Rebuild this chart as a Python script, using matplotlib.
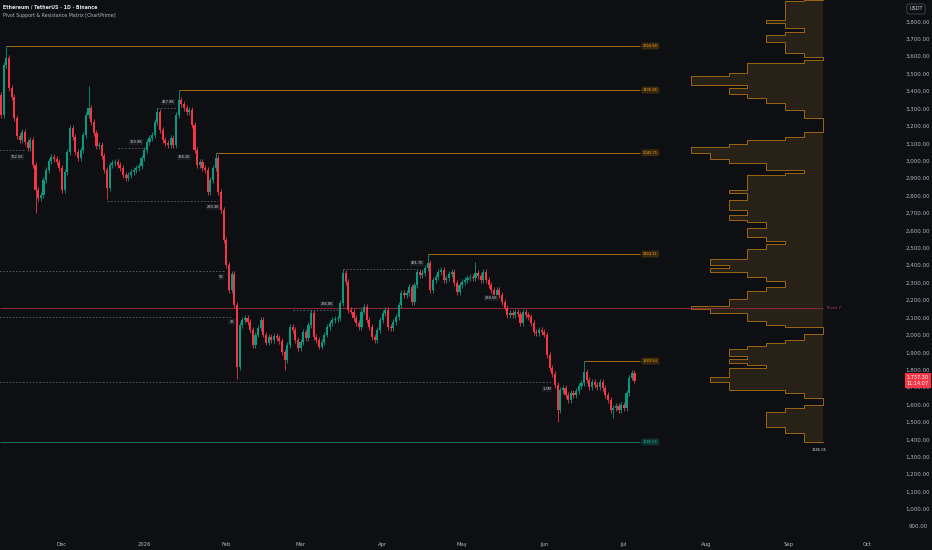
import matplotlib
matplotlib.use("Agg")
import matplotlib.pyplot as plt
import matplotlib.dates as mdates
import matplotlib.transforms as mtransforms
from matplotlib.ticker import FuncFormatter
import numpy as np
import pandas as pd

# ---- daily closes (ETH/USDT 1D) ----
first_day = "2025-11-08"
first_open = 3380
closes_nov = [3263, 3550, 3590, 3418, 3366, 3245, 3142, 3119, 3165, 3108, 3073, 3119, 2976, 2832,
              2786, 2803, 2889, 2947, 2999, 3022, 3010, 2993, 2958]
closes_dec = [2832, 2935, 3050, 3188, 3136, 3050, 3016, 3062, 3148, 3263, 3303, 3222, 3159, 3085,
              3090, 3027, 2947, 2843, 2976, 2987, 2993, 2976, 2958, 2918, 2901, 2918, 2935, 2947,
              2958, 2970, 3016]
closes_jan = [3062, 3108, 3131, 3148, 3222, 3280, 3177, 3119, 3102, 3090, 3131, 3090, 3263, 3349,
              3326, 3303, 3280, 3291, 3205, 3062, 2976, 2993, 2958, 2947, 2821, 2889, 2958, 3016,
              2821, 2717, 2545]
closes_feb = [2401, 2258, 2350, 2172, 1816, 2057, 2086, 2097, 2074, 2028, 1942, 2000, 2040, 2086,
              2000, 1954, 1988, 1971, 1994, 1982, 1965, 1902, 1856, 1942, 2045, 2028, 1971, 1925]
closes_mar = [1959, 2017, 1982, 2057, 2126, 1988, 1971, 1931, 1959, 2000, 2045, 2068, 2086, 2091,
              2097, 2183, 2355, 2304, 2143, 2132, 2097, 2068, 2045, 2132, 2160, 2086, 2045, 1988,
              1971, 2028, 2086]
closes_apr = [2126, 2143, 2045, 2040, 2074, 2103, 2172, 2241, 2229, 2241, 2275, 2189, 2287, 2361,
              2344, 2355, 2384, 2413, 2258, 2315, 2332, 2361, 2373, 2315, 2327, 2350, 2361, 2298,
              2246, 2287]
closes_may = [2304, 2315, 2327, 2332, 2327, 2355, 2338, 2315, 2361, 2315, 2287, 2258, 2229, 2258,
              2229, 2189, 2155, 2114, 2126, 2114, 2132, 2120, 2068, 2132, 2114, 2103, 2068, 2017,
              2011, 2028, 2017]
closes_jun = [2000, 1885, 1810, 1775, 1712, 1569, 1684, 1695, 1655, 1626, 1666, 1655, 1678, 1707,
              1724, 1787, 1741, 1701, 1730, 1712, 1701, 1730, 1695, 1655, 1626, 1569, 1580, 1592,
              1569, 1598]
closes_jul = [1580, 1666, 1753, 1781, 1737.30]

# notable wicks
pivot_highs = {"2025-11-10": 3658.88, "2025-12-11": 3430, "2026-01-06": 3300, "2026-01-14": 3405.86,
               "2026-01-28": 3045.75, "2026-03-17": 2378, "2026-04-18": 2464.11,
               "2026-05-06": 2419, "2026-06-16": 1849.54}
pivot_lows = {"2025-11-21": 2700, "2025-12-18": 2780, "2026-02-05": 1745, "2026-02-23": 1800,
              "2026-06-06": 1500, "2026-06-27": 1520}
wick = 15

# resistance / support levels
res_prices = [3658.88, 3405.86, 3045.75, 2464.11, 1849.54]
res_start = ["2025-11-10", "2026-01-14", "2026-01-28", "2026-04-18", "2026-06-16"]
support_price = 1385.05
poc_price = 2155
level_end = "2026-07-07"
label_day = "2026-07-11"

# dashed pivot lines: price, start, end
dash_prices = [3062, 3073, 3303, 2769, 2367, 2103, 2143, 2378, 1730]
dash_start = ["2025-11-07", "2025-12-22", "2026-01-06", "2025-12-18", "2025-11-07", "2025-11-07",
              "2026-02-26", "2026-03-17", "2025-11-07"]
dash_end = ["2025-11-17", "2026-01-02", "2026-01-13", "2026-01-29", "2026-01-31", "2026-02-03",
            "2026-03-15", "2026-04-14", "2026-06-04"]

# pivot volume labels
vol_text = ["762.5K", "369.9K", "457.9K", "338.2K", "293.3K", "5K", "2K", "286.8K", "491.7K",
            "288.5K", "1.3M"]
vol_day = ["2025-11-14", "2025-12-29", "2026-01-10", "2026-01-16", "2026-01-27", "2026-01-30",
           "2026-02-03", "2026-03-11", "2026-04-14", "2026-05-12", "2026-06-02"]
vol_price = [3022, 3108, 3337, 3022, 2734, 2332, 2074, 2177, 2413, 2212, 1689]

# volume profile (edges top -> bottom, relative size levels)
vp_edges = [3923, 3917, 3808, 3789, 3760, 3738, 3722, 3684, 3617, 3597, 3578, 3563, 3506, 3487,
            3435, 3416, 3382, 3362, 3330, 3291, 3244, 3167, 3135, 3119, 3096, 3077, 3043, 3008,
            2985, 2947, 2928, 2918, 2832, 2813, 2775, 2717, 2688, 2660, 2650, 2612, 2564, 2541,
            2522, 2492, 2434, 2401, 2382, 2363, 2331, 2311, 2277, 2254, 2204, 2166, 2147, 2127,
            2080, 2057, 2044, 2003, 1971, 1955, 1936, 1917, 1879, 1860, 1840, 1827, 1808, 1757,
            1731, 1684, 1668, 1636, 1597, 1578, 1559, 1469, 1435, 1385.05]
vp_levels = [1, 2, 3, 2, 1, 2, 3, 2, 1, 0, 1, 4, 5, 7, 4, 5, 4, 3, 2, 1, 0, 1, 2, 4, 5, 7, 6, 5,
             3, 1, 2, 4, 5, 4, 5, 4, 5, 4, 3, 4, 3, 2, 3, 4, 6, 5, 6, 4, 3, 2, 3, 4, 5, 7, 6, 4,
             3, 2, 0, 1, 2, 3, 4, 5, 4, 5, 4, 3, 5, 6, 5, 2, 1, 0, 1, 2, 3, 2, 1]
vp_right = "2026-09-14"
vp_unit = 7.1  # days per level step

last_price = 1737.30
countdown = "11:14:07"

BG = "#0e0f13"
UP = "#089981"
DN = "#f23645"
ORANGE = "#a8680d"
TXT = "#b2b5be"


def dn(s):
    return mdates.date2num(pd.Timestamp(s))


closes = np.array(closes_nov + closes_dec + closes_jan + closes_feb + closes_mar + closes_apr +
                  closes_may + closes_jun + closes_jul, dtype=float)
dates = pd.date_range(first_day, periods=len(closes), freq="D")
xs = mdates.date2num(dates)
opens = np.concatenate([[first_open], closes[:-1]])
highs = np.maximum(opens, closes) + wick
lows = np.minimum(opens, closes) - wick
for d, v in pivot_highs.items():
    highs[dates.get_loc(pd.Timestamp(d))] = v
for d, v in pivot_lows.items():
    lows[dates.get_loc(pd.Timestamp(d))] = v

fig = plt.figure(figsize=(9.32, 5.5), dpi=100, facecolor=BG)
ax = fig.add_axes([0, 14 / 550, 900 / 932, 536 / 550])
ax.set_facecolor(BG)
for s in ax.spines.values():
    s.set_visible(False)

base = dn("2025-12-01")
ax.set_xlim(base - 23.4, base + 316.2)
ax.set_ylim(845, 3923)

# candles
cols = np.where(closes >= opens, UP, DN)
bottoms = np.minimum(opens, closes)
heights = np.maximum(np.abs(closes - opens), 4)
ax.vlines(xs, lows, highs, colors=cols, lw=0.6, zorder=3)
ax.bar(xs, heights, bottom=bottoms, width=0.8, color=cols, linewidth=0, zorder=4)

# dashed pivot lines
for p, a, b in zip(dash_prices, dash_start, dash_end):
    ax.hlines(p, dn(a), dn(b), colors="#5d606b", lw=0.6, linestyles=(0, (2, 2)), zorder=2)

for t, d, p in zip(vol_text, vol_day, vol_price):
    ax.text(dn(d), p, t, fontsize=2.6, color="#d1d4dc", ha="center", va="center", zorder=6,
            bbox=dict(boxstyle="square,pad=0.25", fc="#1c1d22", ec="none"))

# resistance levels
for p, s in zip(res_prices, res_start):
    ax.hlines(p, dn(s), dn(level_end), colors=ORANGE, lw=0.7, zorder=2)
    ax.text(dn(label_day), p, f"{p:.2f}", fontsize=2.6, color="#e39a1c", ha="center",
            va="center", zorder=6,
            bbox=dict(boxstyle="round,pad=0.4", fc="#3a2a0d", ec="none"))

# support
ax.hlines(support_price, base - 23.4, dn(level_end), colors="#11705f", lw=0.7, zorder=2)
ax.text(dn(label_day), support_price, f"{support_price:.2f}", fontsize=2.6, color="#26a69a",
        ha="center", va="center", zorder=6,
        bbox=dict(boxstyle="round,pad=0.4", fc="#0e3330", ec="none"))

# volume profile
right = dn(vp_right)
tops = np.array(vp_edges[:-1])
bots = np.array(vp_edges[1:])
lev = np.array(vp_levels)
lefts = right - lev * vp_unit
ax.barh((tops + bots) / 2, lev * vp_unit, height=tops - bots, left=lefts, color="#282117",
        linewidth=0, zorder=1)
ox, oy = [right], [tops[0]]
for l, t, b in zip(lefts, tops, bots):
    ox += [l, l]
    oy += [t, b]
ox.append(right)
oy.append(bots[-1])
ax.plot(ox, oy, color="#9a6612", lw=0.7, zorder=2)
ax.text(right - 1.2, bots[-1] - 45, f"{support_price:.2f}", fontsize=2.6, color="#d1d4dc",
        ha="center", va="center")

# POC / pivot line
ax.hlines(poc_price, base - 23.4, right, colors="#7d2c38", lw=0.8, zorder=2)
ax.text(right + 1.8, poc_price, "Pivot 7", fontsize=3, color="#b8455a", ha="left", va="center")

# price axis
ax.yaxis.tick_right()
ax.set_yticks(np.arange(900, 3801, 100))
ax.yaxis.set_major_formatter(FuncFormatter(lambda v, _: f"{v:,.2f}"))
ax.tick_params(axis="y", length=0, pad=13, labelsize=4, labelcolor=TXT)
for lbl in ax.get_yticklabels():
    lbl.set_ha("center")

# time axis
ax.xaxis.set_major_locator(mdates.MonthLocator())
ax.xaxis.set_major_formatter(FuncFormatter(
    lambda v, _: "2026" if mdates.num2date(v).month == 1 else mdates.num2date(v).strftime("%b")))
ax.tick_params(axis="x", length=0, pad=4, labelsize=3.8, labelcolor=TXT)

# last price tag
tr = mtransforms.blended_transform_factory(ax.transAxes, ax.transData)
ax.text(918 / 900, last_price, f"{last_price:,.2f}\n{countdown}", transform=tr, fontsize=3.6,
        color="white", ha="center", va="center", linespacing=1.3, clip_on=False, zorder=10,
        bbox=dict(boxstyle="square,pad=0.4", fc=DN, ec="none"))

fig.text(916 / 932, 1 - 9 / 550, "USDT", fontsize=3.6, color="#d1d4dc", ha="center", va="center",
         bbox=dict(boxstyle="round,pad=0.5", fc=BG, ec="#434651", lw=0.6))

fig.text(3 / 932, 1 - 7 / 550, "Ethereum / TetherUS · 1D · Binance", fontsize=3.4,
         color="#e0e3eb", ha="left", va="center", fontweight="bold")
fig.text(3 / 932, 1 - 16 / 550, "Pivot Support & Resistance Matrix [ChartPrime]", fontsize=3.4,
         color=TXT, ha="left", va="center")

fig.savefig("out.png", dpi=100, facecolor=BG)
